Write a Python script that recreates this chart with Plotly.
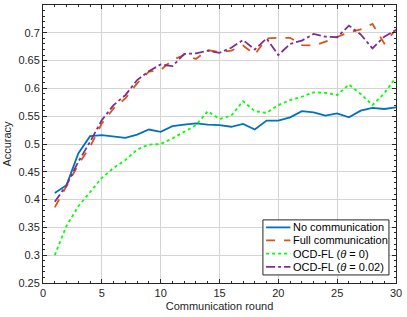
import plotly.graph_objects as go

rounds = list(range(1, 31))
no_comm = [0.412, 0.426, 0.483, 0.514, 0.516, 0.514, 0.511, 0.517, 0.526, 0.522,
           0.532, 0.535, 0.537, 0.535, 0.534, 0.531, 0.536, 0.526, 0.542, 0.542,
           0.548, 0.559, 0.557, 0.551, 0.555, 0.548, 0.560, 0.565, 0.563, 0.566]
full_comm = [0.386, 0.424, 0.463, 0.495, 0.537, 0.564, 0.582, 0.609, 0.630, 0.633,
             0.651, 0.660, 0.653, 0.669, 0.665, 0.668, 0.677, 0.661, 0.690, 0.691,
             0.691, 0.678, 0.677, 0.684, 0.693, 0.701, 0.706, 0.716, 0.681, 0.706]
ocd_0 = [0.300, 0.353, 0.388, 0.414, 0.439, 0.457, 0.471, 0.490, 0.499, 0.500,
         0.510, 0.522, 0.534, 0.559, 0.545, 0.551, 0.577, 0.559, 0.556, 0.570,
         0.579, 0.585, 0.593, 0.592, 0.588, 0.607, 0.590, 0.570, 0.591, 0.620]
ocd_002 = [0.396, 0.426, 0.468, 0.504, 0.543, 0.570, 0.588, 0.615, 0.631, 0.643,
           0.640, 0.662, 0.663, 0.668, 0.664, 0.673, 0.687, 0.670, 0.690, 0.660,
           0.680, 0.686, 0.698, 0.693, 0.692, 0.713, 0.697, 0.672, 0.693, 0.705]

x_ticks = [0, 5, 10, 15, 20, 25, 30]
y_ticks = [0.25, 0.3, 0.35, 0.4, 0.45, 0.5, 0.55, 0.6, 0.65, 0.7, 0.75]
y_tick_labels = ["0.25", "0.3", "0.35", "0.4", "0.45", "0.5", "0.55", "0.6", "0.65", "0.7", "0.75"]

series_names = ["No communication", "Full communication",
                "OCD-FL (<i>θ</i> = 0)", "OCD-FL (<i>θ</i> = 0.02)"]
series_values = [no_comm, full_comm, ocd_0, ocd_002]
series_colors = ["#0072BD", "#D95319", "#00FF00", "#7E2F8E"]
series_dashes = ["solid", "dash", "dot", "dashdot"]

FONT = "Liberation Sans, Arial"
fig = go.Figure()
for name, vals, color, dash in zip(series_names, series_values, series_colors, series_dashes):
    fig.add_trace(go.Scatter(x=rounds, y=vals, mode="lines", name=name, showlegend=False,
                             line=dict(color=color, dash=dash, width=1.8)))

# compact MATLAB-style legend box (paper coordinates)
lx0, lx1, ly0, ly1 = 0.623, 0.980, 0.029, 0.227
fig.add_shape(type="rect", xref="paper", yref="paper", x0=lx0, x1=lx1, y0=ly0, y1=ly1,
              line=dict(color="#262626", width=1), fillcolor="white", layer="above")
row_y = [0.200, 0.153, 0.106, 0.058]
for name, color, dash, yy in zip(series_names, series_colors, series_dashes, row_y):
    fig.add_shape(type="line", xref="paper", yref="paper", x0=0.632, x1=0.701, y0=yy, y1=yy,
                  line=dict(color=color, dash=dash, width=1.8), layer="above")
    fig.add_annotation(xref="paper", yref="paper", x=0.703, y=yy, text=name,
                       showarrow=False, xanchor="left", yanchor="middle",
                       font=dict(family=FONT, size=11, color="#000000"))

axis_common = dict(
    automargin=False,
    showline=True, linecolor="#262626", linewidth=1, mirror="allticks",
    ticks="inside", ticklen=4, tickcolor="#262626",
    showgrid=True, gridcolor="#d4d4d4", gridwidth=1, zeroline=False,
    tickfont=dict(family=FONT, size=11, color="#262626"),
)

fig.update_xaxes(range=[0, 30], tickvals=x_ticks,
                 title=dict(text="Communication round", standoff=4,
                            font=dict(family=FONT, size=11, color="#262626")),
                 minor=dict(ticks="inside", dtick=1, ticklen=2, tickcolor="#262626", showgrid=False),
                 **axis_common)
fig.update_yaxes(range=[0.25, 0.75], tickvals=y_ticks, ticktext=y_tick_labels,
                 title=dict(text="Accuracy", standoff=4,
                            font=dict(family=FONT, size=11, color="#262626")),
                 minor=dict(ticks="inside", dtick=0.01, ticklen=2, tickcolor="#262626", showgrid=False),
                 **axis_common)

fig.update_layout(
    width=407, height=317,
    margin=dict(l=43, r=11, t=5, b=34),
    plot_bgcolor="white", paper_bgcolor="white",
    font=dict(family=FONT, size=11, color="#262626"),
    showlegend=False,
)

fig.write_html("out.html", config={"displayModeBar": False},
               post_script="document.body.style.margin='0';document.body.style.padding='0';")
